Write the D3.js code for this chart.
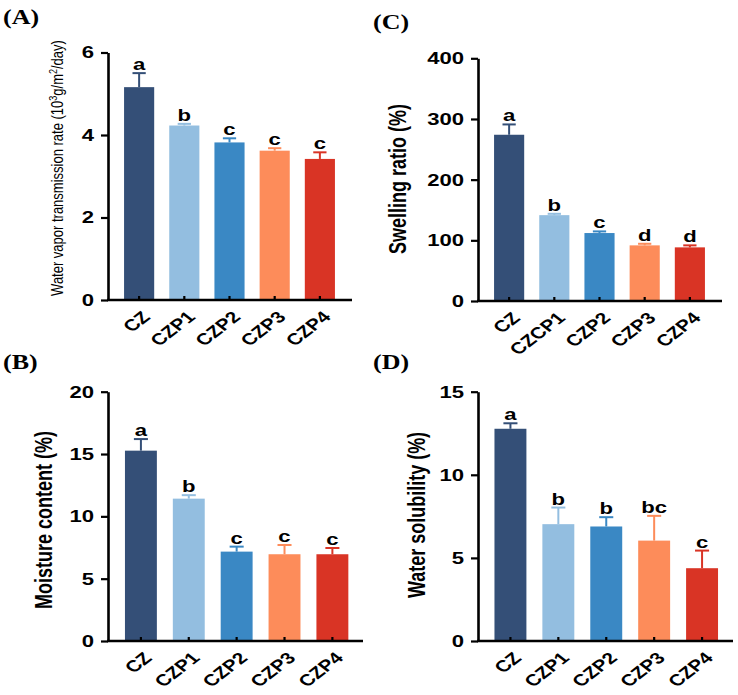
<!DOCTYPE html>
<html>
<head>
<meta charset="utf-8">
<script src="https://cdn.jsdelivr.net/npm/d3@7"></script>
<style>
  body { margin: 0; background: #fff; }
  svg { display: block; }
</style>
</head>
<body>
<div id="chart"></div>
<script>
const categories = ['CZ', 'CZP1', 'CZP2', 'CZP3', 'CZP4'];
const categoriesC = ['CZ', 'CZCP1', 'CZP2', 'CZP3', 'CZP4'];
const colors = ['#344f77', '#93bee0', '#3a88c4', '#fd8c5a', '#d93425'];

const wvtr = [5.16, 4.23, 3.82, 3.62, 3.42];
const wvtrErr = [0.34, 0.04, 0.1, 0.06, 0.16];
const wvtrLetters = ['a', 'b', 'c', 'c', 'c'];
const wvtrTicks = [0, 2, 4, 6];

const swelling = [274, 141.5, 112, 91.7, 88.4];
const swellingErr = [17, 2.2, 2.7, 2.6, 3.3];
const swellingLetters = ['a', 'b', 'c', 'd', 'd'];
const swellingTicks = [0, 100, 200, 300, 400];

const moisture = [15.27, 11.42, 7.17, 6.96, 6.96];
const moistureErr = [0.93, 0.28, 0.4, 0.74, 0.5];
const moistureLetters = ['a', 'b', 'c', 'c', 'c'];
const moistureTicks = [0, 5, 10, 15, 20];

const solubility = [12.77, 7.03, 6.89, 6.04, 4.38];
const solubilityErr = [0.33, 1.0, 0.56, 1.49, 1.06];
const solubilityLetters = ['a', 'b', 'b', 'bc', 'c'];
const solubilityTicks = [0, 5, 10, 15];

// the source figure is stretched horizontally, so text gets the same stretch
const SX = 1.3;
const sans = 'Liberation Sans, Arial, sans-serif';

const svg = d3.select('#chart').append('svg').attr('width', 738).attr('height', 695);

function panel(p) {
    const g = svg.append('g');
    const x = d3.scaleBand().domain(p.cats).range(p.xRange).padding(1 / 3);
    const y = d3.scaleLinear().domain([0, d3.max(p.ticks)]).range(p.yRange);
    const bw = x.bandwidth();
    const cx = (i) => x(p.cats[i]) + bw / 2;

    g.selectAll('rect.bar')
        .data(p.values)
        .join('rect')
        .attr('class', 'bar')
        .attr('x', (d, i) => x(p.cats[i]))
        .attr('y', (d) => y(d))
        .attr('width', bw)
        .attr('height', (d) => y(0) - y(d))
        .attr('fill', (d, i) => colors[i]);

    const err = g.selectAll('g.err').data(p.values).join('g').attr('class', 'err')
        .attr('stroke', (d, i) => colors[i]).attr('stroke-width', 2);
    err.append('line')
        .attr('x1', (d, i) => cx(i))
        .attr('x2', (d, i) => cx(i))
        .attr('y1', (d) => y(d))
        .attr('y2', (d, i) => y(d + p.errs[i]));
    err.append('line')
        .attr('x1', (d, i) => cx(i) - bw * 0.22)
        .attr('x2', (d, i) => cx(i) + bw * 0.22)
        .attr('y1', (d, i) => y(d + p.errs[i]))
        .attr('y2', (d, i) => y(d + p.errs[i]));

    g.selectAll('text.sig')
        .data(p.values)
        .join('text')
        .attr('class', 'sig')
        .attr('transform', (d, i) => `translate(${cx(i)},${y(d + p.errs[i]) - 3}) scale(${SX},1)`)
        .attr('text-anchor', 'middle')
        .attr('font-family', sans)
        .attr('font-weight', 'bold')
        .attr('font-size', 17)
        .text((d, i) => p.letters[i]);

    const yAxis = g.append('g')
        .attr('transform', `translate(${p.axisX},0)`)
        .call(d3.axisLeft(y).tickValues(p.ticks).tickFormat(d3.format('d'))
            .tickSize(7).tickSizeOuter(0).tickPadding(7));
    const xAxis = g.append('g')
        .attr('transform', `translate(0,${y(0)})`)
        .call(d3.axisBottom(x).tickSizeInner(-4).tickSizeOuter(0).tickFormat(''));
    xAxis.select('.domain').attr('d', `M${p.axisX - 1},0H${p.xEnd}`);
    xAxis.selectAll('.tick text').remove();

    [yAxis, xAxis].forEach((a) => {
        a.select('.domain').attr('stroke', '#000').attr('stroke-width', 2.6);
        a.selectAll('.tick line').attr('stroke', '#000').attr('stroke-width', 2.2);
    });
    yAxis.selectAll('.tick text').each(function () {
        const t = d3.select(this);
        const tx = +t.attr('x');
        t.attr('x', 0)
            .attr('transform', `translate(${tx},0) scale(${SX},1)`)
            .attr('font-family', sans)
            .attr('font-weight', 'bold')
            .attr('font-size', 17)
            .attr('fill', '#000');
    });

    // category labels, rotated, ending just right of the bar centre
    const xl = g.selectAll('g.xlab')
        .data(p.cats)
        .join('g')
        .attr('class', 'xlab')
        .attr('transform', (d, i) => `translate(${cx(i) + 7},${y(0) + 14}) scale(${SX},1)`);
    xl.append('text')
        .attr('transform', 'rotate(-45)')
        .attr('text-anchor', 'end')
        .attr('dy', '0.35em')
        .attr('font-family', sans)
        .attr('font-weight', 'bold')
        .attr('font-size', 16)
        .text((d) => d);

    const lab = g.append('g')
        .attr('transform', `translate(${p.labelX},${p.labelY}) scale(${SX},1)`)
        .append('text')
        .attr('transform', 'rotate(-90)')
        .attr('text-anchor', 'middle')
        .attr('dy', '0.35em')
        .attr('font-family', sans)
        .attr('font-weight', p.labelWeight)
        .attr('font-size', p.labelSize);
    p.label.forEach((s) => {
        lab.append('tspan')
            .attr('baseline-shift', s.sup ? 'super' : null)
            .attr('font-size', s.sup ? p.labelSize * 0.7 : null)
            .text(s.t);
    });

    g.append('text')
        .attr('transform', `translate(${p.tagX},${p.tagY}) scale(${SX},1)`)
        .attr('font-family', 'Liberation Serif, Times New Roman, serif')
        .attr('font-weight', 'bold')
        .attr('font-size', 20)
        .text(p.tag);
}

panel({
    tag: '(A)', tagX: 3, tagY: 24,
    cats: categories, values: wvtr, errs: wvtrErr, letters: wvtrLetters, ticks: wvtrTicks,
    xRange: [109, 350], yRange: [300, 52.5], axisX: 108, xEnd: 352,
    label: [{ t: 'Water vapor transmission rate (10' }, { t: '3', sup: true }, { t: 'g/m' },
        { t: '2', sup: true }, { t: '/day)' }],
    labelX: 57.5, labelY: 168, labelSize: 13, labelWeight: 'normal',
});

panel({
    tag: '(C)', tagX: 373, tagY: 29,
    cats: categoriesC, values: swelling, errs: swellingErr, letters: swellingLetters, ticks: swellingTicks,
    xRange: [479, 720], yRange: [301, 58.3], axisX: 478, xEnd: 722,
    label: [{ t: 'Swelling ratio (%)' }],
    labelX: 398, labelY: 179, labelSize: 18, labelWeight: 'bold',
});

panel({
    tag: '(B)', tagX: 3, tagY: 369,
    cats: categories, values: moisture, errs: moistureErr, letters: moistureLetters, ticks: moistureTicks,
    xRange: [109, 364.3], yRange: [641, 391.7], axisX: 108, xEnd: 363,
    label: [{ t: 'Moisture content (%)' }],
    labelX: 44, labelY: 520, labelSize: 18, labelWeight: 'bold',
});

panel({
    tag: '(D)', tagX: 373, tagY: 369,
    cats: categories, values: solubility, errs: solubilityErr, letters: solubilityLetters, ticks: solubilityTicks,
    xRange: [478.5, 734], yRange: [641, 391.7], axisX: 478, xEnd: 733,
    label: [{ t: 'Water solubility (%)' }],
    labelX: 416.5, labelY: 515, labelSize: 18, labelWeight: 'bold',
});
</script>
</body>
</html>
